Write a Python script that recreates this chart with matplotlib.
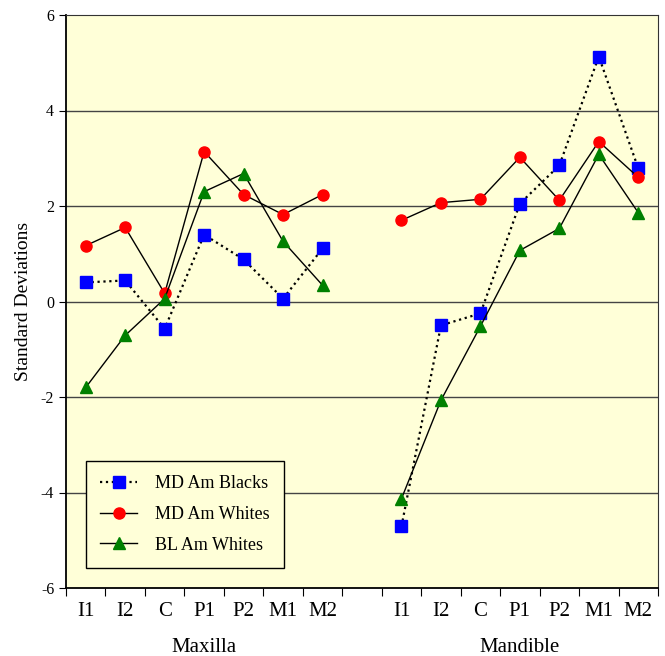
import numpy as np
import matplotlib
matplotlib.use("Agg")
import matplotlib.pyplot as plt
from matplotlib.lines import Line2D


TEETH = ["I1", "I2", "C", "P1", "P2", "M1", "M2"]
GROUPS = ["Maxilla", "Mandible"]

# standard deviation scores, maxilla then mandible
md_blacks_max = [0.40, 0.44, -0.57, 1.40, 0.88, 0.06, 1.11]
md_blacks_man = [-4.71, -0.50, -0.25, 2.05, 2.85, 5.13, 2.79]
md_whites_max = [1.17, 1.55, 0.17, 3.14, 2.24, 1.82, 2.24]
md_whites_man = [1.70, 2.07, 2.14, 3.02, 2.12, 3.35, 2.60]
bl_whites_max = [-1.80, -0.71, 0.06, 2.30, 2.68, 1.26, 0.34]
bl_whites_man = [-4.13, -2.07, -0.52, 1.07, 1.53, 3.08, 1.86]

plt.rcParams["font.family"] = ["Liberation Serif", "DejaVu Serif"]

BG = "#FFFFD8"

fig = plt.figure(figsize=(6.65, 6.56), dpi=100)
ax = fig.add_axes([66 / 665, 1 - 588 / 656, 592 / 665, 573 / 656])
ax.set_facecolor(BG)

n = len(TEETH)
x_max = np.arange(n) + 0.5
x_man = np.arange(n) + n + 1.5

series = [
    (md_blacks_max, md_blacks_man, "MD Am Blacks", "s", "#0000FF", ":", 1.6),
    (md_whites_max, md_whites_man, "MD Am Whites", "o", "#FF0000", "-", 1.0),
    (bl_whites_max, bl_whites_man, "BL Am Whites", "^", "#008000", "-", 1.0),
]
handles = []
for vmax, vman, label, mk, col, ls, lw in series:
    for xs, vs in ((x_max, vmax), (x_man, vman)):
        ax.plot(xs, vs, color="black", linestyle=ls, linewidth=lw,
                marker=mk, markersize=8, markerfacecolor=col,
                markeredgecolor=col, zorder=3)
    handles.append(Line2D([], [], color="black", linestyle=ls, linewidth=lw,
                          marker=mk, markersize=8, markerfacecolor=col,
                          markeredgecolor=col, label=label))

ax.set_xlim(0, 2 * n + 1)
ax.set_ylim(-6, 6)
for y in (-4, -2, 0, 2, 4):
    ax.axhline(y, color="#444444", linewidth=1.0, zorder=1)

ax.set_yticks(np.arange(-6, 7, 2))
ax.set_yticklabels([str(v) for v in range(-6, 7, 2)], fontsize=11.5)
ax.set_xticks(np.arange(0, 2 * n + 2))
ax.set_xticklabels([])
ax.set_xticks(np.concatenate([x_max, x_man]), minor=True)
ax.set_xticklabels(TEETH + TEETH, minor=True, fontsize=15)
ax.tick_params(axis="x", which="minor", length=0, pad=10)
ax.tick_params(axis="x", which="major", length=6, direction="out")
ax.tick_params(axis="y", length=5, direction="out")

for side in ("top", "right"):
    ax.spines[side].set_color("#333333")
for side in ("left", "bottom"):
    ax.spines[side].set_linewidth(1.3)

ax.text(x_max.mean(), -7.33, GROUPS[0], ha="center", va="baseline", fontsize=15)
ax.text(x_man.mean(), -7.33, GROUPS[1], ha="center", va="baseline", fontsize=15)
ax.set_ylabel("Standard Deviations", fontsize=14, labelpad=6)

leg = ax.legend(handles=handles, loc="lower left",
                bbox_to_anchor=(20 / 592, 20 / 573), borderaxespad=0,
                fontsize=13, frameon=True, fancybox=False, facecolor=BG,
                edgecolor="black", framealpha=1.0, borderpad=0.8,
                labelspacing=0.75, handlelength=2.0, handletextpad=1.0)
leg.get_frame().set_linewidth(1.0)

fig.savefig("out.png", dpi=100)
